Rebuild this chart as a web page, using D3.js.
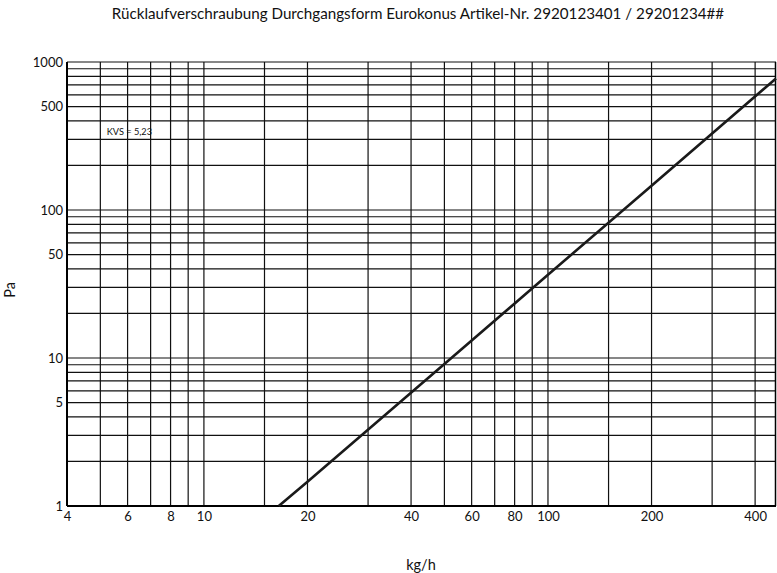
<!DOCTYPE html>
<html><head><meta charset="utf-8">
<script src="https://cdn.jsdelivr.net/npm/d3@7"></script>
<style>
body{margin:0;background:#fff;}
text{font-family:"Lato","Open Sans",sans-serif;fill:#111;}
</style></head>
<body>
<script>
const titleText = "Rücklaufverschraubung Durchgangsform Eurokonus Artikel-Nr. 2920123401 / 29201234##";
const xLabel = "kg/h";
const yLabel = "Pa";
const annotation = "KVS = 5,23";
const xDomain = [4, 460];
const yDomain = [1, 1000];
const xGrid = [5,6,7,8,9,10,15,20,30,40,50,60,70,80,90,100,150,200,300,400];
const yGrid = [2,3,4,5,6,7,8,9,10,20,30,40,50,60,70,80,90,100,200,300,400,500,600,700,800,900,1000];
const xTicks = [4,6,8,10,20,40,60,80,100,200,400];
const yTicks = [1,5,10,50,100,500,1000];
const flow = [16.5, 20, 50, 100, 200, 460];
const pressure = [1, 1.46, 9.1, 36.5, 146, 774];

const W = 777, H = 573;
const m = {left:67, right:1, top:62, bottom:67};
const svg = d3.select("body").append("svg").attr("width",W).attr("height",H);
const x = d3.scaleLog().domain(xDomain).range([m.left, W-m.right]);
const y = d3.scaleLog().domain(yDomain).range([H-m.bottom, m.top]);

const g = svg.append("g");
g.selectAll(".vg").data(xGrid).join("line")
  .attr("x1",d=>x(d)).attr("x2",d=>x(d)).attr("y1",y(yDomain[0])).attr("y2",y(yDomain[1]))
  .attr("stroke","#111").attr("stroke-width",1.2);
g.selectAll(".hg").data(yGrid).join("line")
  .attr("y1",d=>y(d)).attr("y2",d=>y(d)).attr("x1",x(xDomain[0])).attr("x2",x(xDomain[1]))
  .attr("stroke","#111").attr("stroke-width",1.2);

// frame
g.append("line").attr("x1",x(xDomain[0])).attr("x2",x(xDomain[0])).attr("y1",y(yDomain[0])).attr("y2",y(yDomain[1])).attr("stroke","#000").attr("stroke-width",2);
g.append("line").attr("x1",x(xDomain[0])).attr("x2",x(xDomain[1])).attr("y1",y(yDomain[0])).attr("y2",y(yDomain[0])).attr("stroke","#000").attr("stroke-width",2);
g.append("line").attr("x1",x(xDomain[1])-0.5).attr("x2",x(xDomain[1])-0.5).attr("y1",y(yDomain[0])).attr("y2",y(yDomain[1])).attr("stroke","#000").attr("stroke-width",1.5);

// axes
const xAxis = d3.axisBottom(x).tickValues(xTicks).tickFormat(d3.format("d")).tickSize(0).tickPadding(6);
const ax = svg.append("g").attr("transform",`translate(0,${y(yDomain[0])})`).call(xAxis);
ax.select(".domain").remove();
ax.selectAll("text").attr("font-size",13).style("font-family","Lato, sans-serif").attr("fill","#111");
const yAxis = d3.axisLeft(y).tickValues(yTicks).tickFormat(d3.format("d")).tickSize(0).tickPadding(4);
const ay = svg.append("g").attr("transform",`translate(${x(xDomain[0])},0)`).call(yAxis);
ay.select(".domain").remove();
ay.selectAll("text").attr("font-size",13).style("font-family","Lato, sans-serif").attr("fill","#111");

// data line
const pts = flow.map((f,i)=>[f,pressure[i]]);
svg.append("path").datum(pts)
  .attr("d", d3.line().x(d=>x(d[0])).y(d=>y(d[1])))
  .attr("fill","none").attr("stroke","#1a1a1a").attr("stroke-width",2.6);

// annotation
svg.append("text").attr("x",x(5.22)).attr("y",y(320)).attr("font-size",9.2).text(annotation);

// titles
svg.append("text").attr("x",418).attr("y",19).attr("text-anchor","middle").attr("font-size",15.2).text(titleText);
svg.append("text").attr("x",421).attr("y",570).attr("text-anchor","middle").attr("font-size",14.5).text(xLabel);
svg.append("text").attr("transform","translate(15,290) rotate(-90)").attr("text-anchor","middle").attr("font-size",14.5).text(yLabel);
</script>
</body></html>
